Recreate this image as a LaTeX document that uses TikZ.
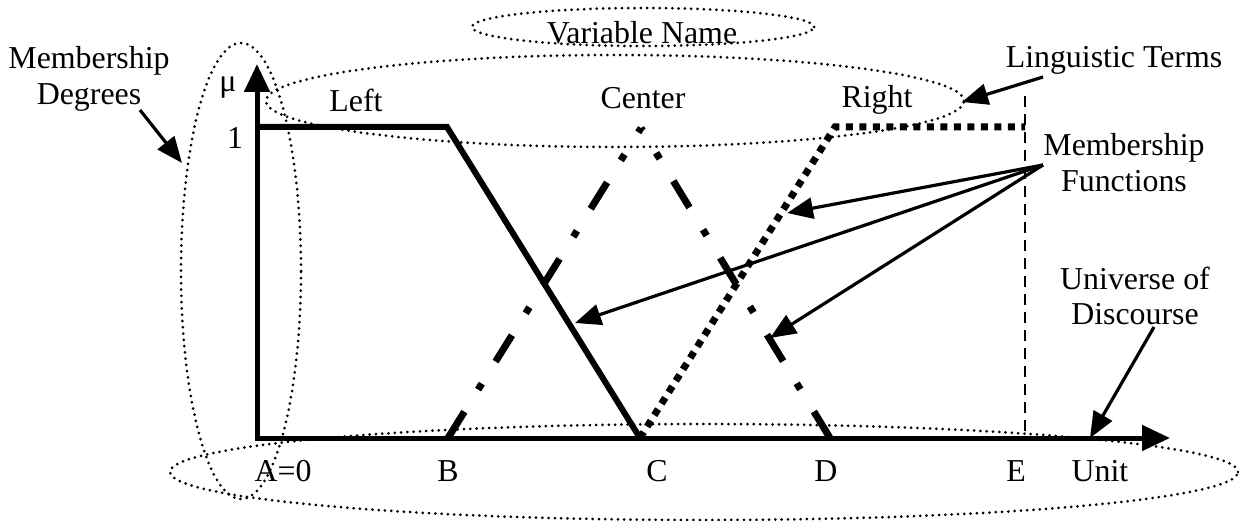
\documentclass[tikz,border=0pt]{standalone}
\usepackage{fontspec}
\setmainfont{Liberation Serif}
\usetikzlibrary{arrows.meta}
\begin{document}
\begin{tikzpicture}[x=1bp,y=-1bp,
  lbl/.style={font=\fontsize{32}{36}\selectfont, inner sep=0pt, align=center},
  axisline/.style={line width=5bp, line join=miter, {Triangle[length=28bp,width=25bp]}-{Triangle[length=28bp,width=25bp]}},
  lmf/.style={line width=6bp, line join=miter},
  cmf/.style={line width=7bp, dash pattern=on 31bp off 26bp on 7bp off 26bp},
  rmf/.style={line width=7bp, dash pattern=on 7bp off 6.5bp},
  ell/.style={line width=3bp, line cap=round, dash pattern=on 0bp off 6.3bp},
  ptr/.style={line width=3.2bp, -{Triangle[length=26bp,width=21bp]}},
  guide/.style={line width=2.6bp, dash pattern=on 11bp off 7bp}]
\useasboundingbox (0,0) rectangle (1239,521);

% key points
\coordinate (O) at (257,438);
\coordinate (Ytip) at (257,64);
\coordinate (Xtip) at (1170,438);
\coordinate (L1) at (257,127);
\coordinate (B1) at (447,127);
\coordinate (B0) at (448,438);
\coordinate (C0) at (640,438);
\coordinate (Pk) at (641,128);
\coordinate (D0) at (830,438);
\coordinate (R1) at (835,127);
\coordinate (E1) at (1025,127);
\coordinate (Etop) at (1025,96);
\coordinate (E0) at (1025,438);

% ellipses
\draw[ell] (643,27) ellipse [x radius=171bp, y radius=19bp];
\draw[ell] (615,101) ellipse [x radius=349bp, y radius=46bp];
\draw[ell] (241,271) ellipse [x radius=60bp, y radius=228bp];
\draw[ell] (704,472) ellipse [x radius=534bp, y radius=48bp];

% axes
\draw[axisline] (Ytip) -- (O) -- (Xtip);
\draw[guide] (Etop) -- (E0);

% membership functions
\draw[lmf] (L1) -- (B1) -- (C0);
\draw[cmf] (B0) -- (Pk);
\draw[cmf] (D0) -- (Pk);
\draw[rmf] (C0) -- (R1) -- (E1);

% labels
\node[lbl] (vn) at (642,33) {Variable Name};
\node[lbl] (md) at (89,79) {Membership\\Degrees};
\node[lbl] (lt) at (1114,60) {Linguistic Terms};
\node[lbl] (mf) at (1124,163) {Membership\\Functions};
\node[lbl] (ud) at (1135,296) {Universe of\\Discourse};
\node[lbl] (mu) at (228,88) {μ};
\node[lbl] (one) at (235,138) {1};
\node[lbl] (tl) at (356,100) {Left};
\node[lbl] (tc) at (643,98) {Center};
\node[lbl] (tr) at (877,100) {Right};
\node[lbl] (ta) at (283,471) {A=0};
\node[lbl] (tb) at (448,471) {B};
\node[lbl] (tcc) at (657,471) {C};
\node[lbl] (td) at (826,471) {D};
\node[lbl] (te) at (1016,471) {E};
\node[lbl] (tu) at (1100,471) {Unit};

% pointer arrows
\coordinate (mdS) at (140,110); \coordinate (mdT) at (182,163);
\coordinate (ltS) at (1043,77); \coordinate (ltT) at (962,102);
\coordinate (mfS) at (1043,165);
\coordinate (mfT1) at (787,213); \coordinate (mfT2) at (575,323); \coordinate (mfT3) at (770,338);
\coordinate (udS) at (1154,327); \coordinate (udT) at (1090,438);
\draw[ptr] (mdS) -- (mdT);
\draw[ptr] (ltS) -- (ltT);
\draw[ptr] (mfS) -- (mfT1);
\draw[ptr] (mfS) -- (mfT2);
\draw[ptr] (mfS) -- (mfT3);
\draw[ptr] (udS) -- (udT);
\end{tikzpicture}
\end{document}
